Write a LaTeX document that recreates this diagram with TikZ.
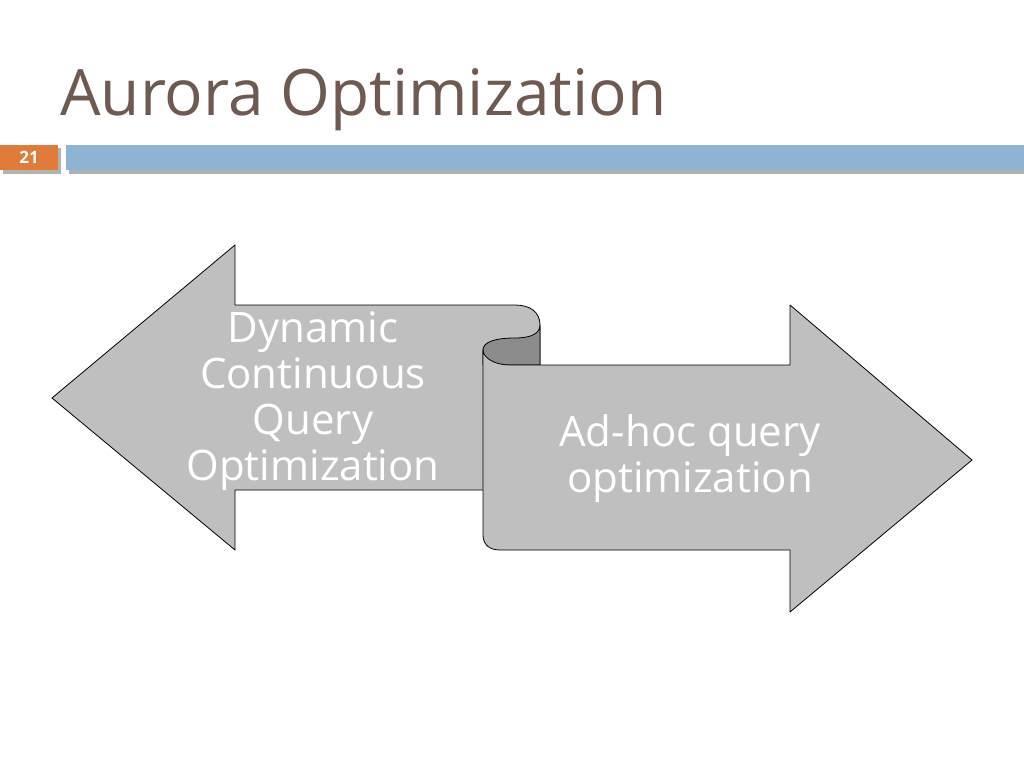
\documentclass[tikz,border=0pt]{standalone}
\usepackage{fontspec}
\setmainfont{Open Sans}
\definecolor{ttl}{HTML}{6E5A50}
\definecolor{bar}{HTML}{8FB4D3}
\definecolor{org}{HTML}{E07B39}
\begin{document}
\begin{tikzpicture}[x=1pt,y=-1pt,
  shp/.style={fill=black!25,draw=black,line width=0.8pt,line join=round},
  lbl/.style={text=white,font=\fontsize{42}{46}\selectfont,align=center}]
\useasboundingbox (0,0) rectangle (1024,768);
\fill[white] (0,0) rectangle (1024,768);
\node[anchor=west,text=ttl,font=\fontsize{64}{72}\selectfont,inner sep=0] (title) at (60,100) {Aurora Optimization};
\fill[black!30] (3,148) rectangle (61,174);
\fill[black!30] (69,148) rectangle (1024,174);
\fill[org] (0,145) rectangle (58,170);
\fill[bar] (66,145) rectangle (1024,170);
\node[text=white,font=\bfseries\fontsize{17}{19}\selectfont] (num) at (29,157) {21};
% left arrow
\draw[shp] (235,305) -- (515,305) .. controls (530,305) and (540,312) .. (540,325) -- (540,490) -- (235,490) -- (235,550) -- (52,398) -- (235,245) -- cycle;
% fold
\draw[fill=black!45,draw=black,line width=0.8pt] (540,325) .. controls (540,333) and (532,338) .. (515,338) .. controls (495,338) and (483,342) .. (483,350) -- (483,365) -- (540,365) -- cycle;
% right arrow
\draw[shp] (483,350) .. controls (483,358) and (495,365) .. (510,365) -- (790,365) -- (790,305) -- (972,460) -- (790,612) -- (790,550) -- (500,550) .. controls (490,550) and (483,545) .. (483,535) -- cycle;
\node[lbl] (l) at (313,401) {Dynamic\\Continuous\\Query\\Optimization};
\node[lbl] (r) at (690,459) {Ad-hoc query\\optimization};
\end{tikzpicture}
\end{document}
